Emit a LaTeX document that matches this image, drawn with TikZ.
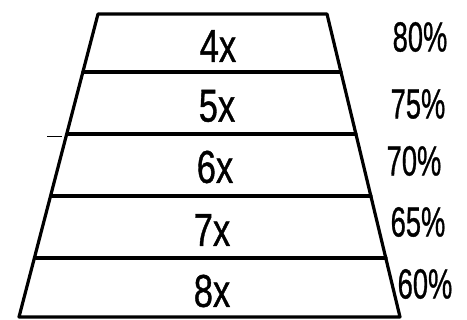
\documentclass[tikz,border=0pt]{standalone}
\usepackage{fontspec}
\setmainfont{Liberation Sans}
\newfontfamily\handfont{Liberation Sans}[FakeBold=1.0]
\begin{document}
\begin{tikzpicture}[x=1pt,y=-1pt,
  edge/.style={line width=3.2pt,line cap=round,line join=round},
  band/.style={font=\handfont\fontsize{46}{46}\selectfont,inner sep=0pt},
  pct/.style={font=\handfont\fontsize{42}{42}\selectfont,inner sep=0pt}]
\useasboundingbox (0,0) rectangle (467,320);
% corners
\coordinate (tl) at (98,14);
\coordinate (tr) at (327,14);
\coordinate (bl) at (19,317);
\coordinate (br) at (400,317);
\draw[edge] (bl) -- (tl) -- (tr) -- (br) -- cycle;
\foreach \y/\xl/\xr in {72/83/341, 134/67/356, 196/52/371, 258/36/386}{
  \draw[edge] (\xl,\y) -- (\xr,\y);
}
\draw[line width=1pt] (47,137) -- (62,137);
\node[band] (b4) at (218,46) {\scalebox{0.75}[1]{4x}};
\node[band] (b5) at (217,106) {\scalebox{0.75}[1]{5x}};
\node[band] (b6) at (215,167) {\scalebox{0.75}[1]{6x}};
\node[band] (b7) at (212,230) {\scalebox{0.75}[1]{7x}};
\node[band] (b8) at (212,291) {\scalebox{0.75}[1]{8x}};
\node[pct] (p80) at (420,37) {\scalebox{0.65}[1]{80\%}};
\node[pct] (p75) at (418,104) {\scalebox{0.65}[1]{75\%}};
\node[pct] (p70) at (414,161) {\scalebox{0.65}[1]{70\%}};
\node[pct] (p65) at (418,222) {\scalebox{0.65}[1]{65\%}};
\node[pct] (p60) at (425,284) {\scalebox{0.65}[1]{60\%}};
\end{tikzpicture}
\end{document}
